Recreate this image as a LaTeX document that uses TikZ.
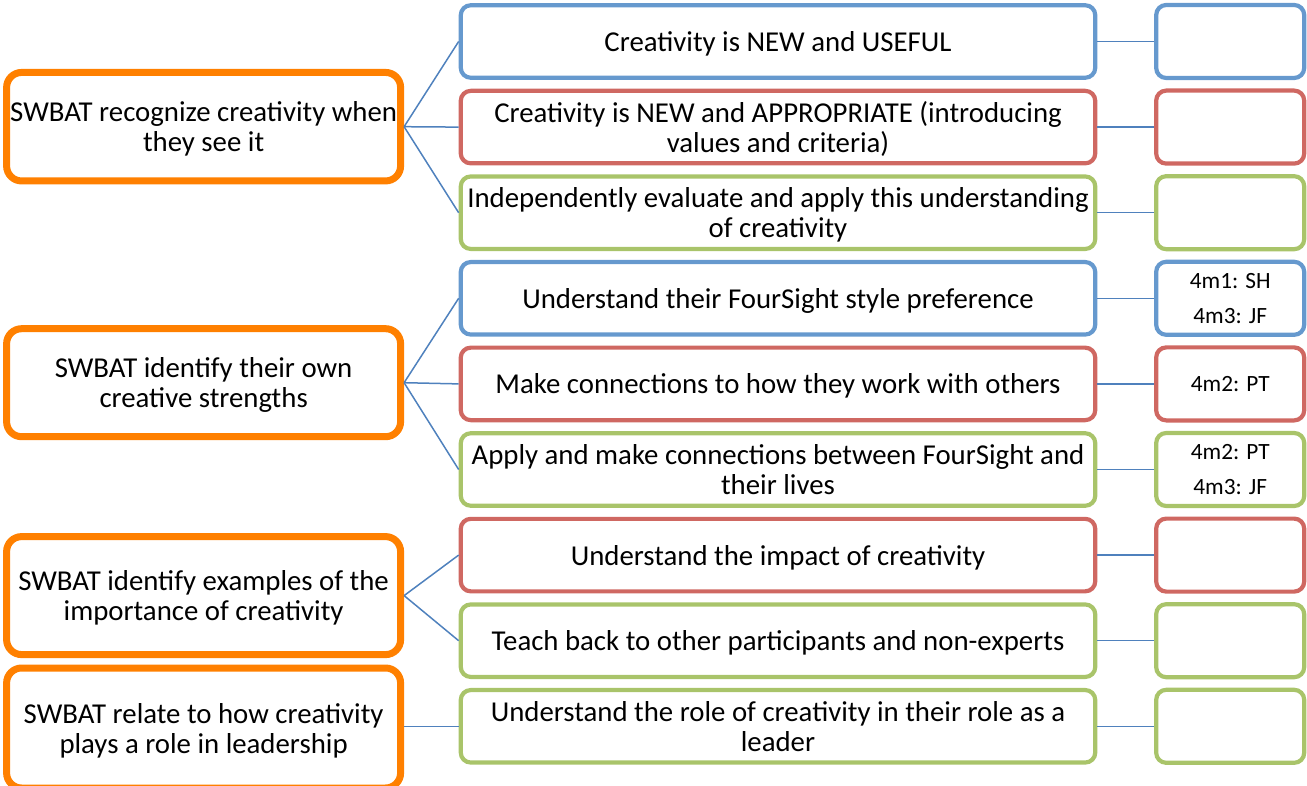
\documentclass[tikz,border=0pt]{standalone}
\usepackage{fontspec}
\setmainfont{Carlito}
\definecolor{orangeb}{RGB}{255,128,0}
\definecolor{blueb}{RGB}{102,153,206}
\definecolor{redb}{RGB}{207,104,98}
\definecolor{greenb}{RGB}{169,196,106}
\definecolor{linkb}{RGB}{79,129,189}
\begin{document}
\begin{tikzpicture}[x=1pt,y=-1pt,
  goal/.style={draw=orangeb, line width=7pt, rounded corners=15pt, minimum width=394pt, align=center, font=\fontsize{28.8}{30}\selectfont, inner sep=0pt, text depth=0pt},
  obj/.style={draw=#1, line width=4.2pt, rounded corners=10pt, minimum width=634.5pt, minimum height=72.5pt, align=center, font=\fontsize{28.8}{30}\selectfont, inner sep=0pt, text depth=0pt},
  tag/.style={draw=#1, line width=4.2pt, rounded corners=10pt, minimum width=148pt, minimum height=73pt, align=center, font=\fontsize{23.3}{35.5}\selectfont, inner sep=0pt},
  link/.style={draw=linkb, line width=1.5pt}]
\useasboundingbox (0,0) rectangle (1307,786);

% connectors' end points are node anchors; nodes first
\node[goal, minimum height=108.5pt] (g1) at (203.6,126.7) {SWBAT recognize creativity when\\they see it};
\node[goal, minimum height=108pt] (g2) at (203.6,382.7) {SWBAT identify their own\\creative strengths};
\node[goal, minimum height=118pt] (g3) at (203.6,595.6) {SWBAT identify examples of the\\importance of creativity};
\node[goal, minimum height=120pt] (g4) at (203.6,728) {SWBAT relate to how creativity\\plays a role in leadership};

\node[obj=blueb]  (o1) at (778,41.5)  {Creativity is NEW and USEFUL};
\node[obj=redb]   (o2) at (778,127.1) {Creativity is NEW and APPROPRIATE (introducing\\values and criteria)};
\node[obj=greenb] (o3) at (778,212.7) {Independently evaluate and apply this understanding\\of creativity};
\node[obj=blueb]  (o4) at (778,298.3) {Understand their FourSight style preference};
\node[obj=redb]   (o5) at (778,383.9) {Make connections to how they work with others};
\node[obj=greenb] (o6) at (778,469.5) {Apply and make connections between FourSight and\\their lives};
\node[obj=redb]   (o7) at (778,555.1) {Understand the impact of creativity};
\node[obj=greenb] (o8) at (778,640.7) {Teach back to other participants and non-experts};
\node[obj=greenb] (o9) at (778,726.3) {Understand the role of creativity in their role as a\\leader};

\node[tag=blueb]  (t1) at (1230.2,41.5)  {};
\node[tag=redb]   (t2) at (1230.2,127.1) {};
\node[tag=greenb] (t3) at (1230.2,212.7) {};
\node[tag=blueb]  (t4) at (1230.2,298.3) {4m1: SH\\4m3: JF};
\node[tag=redb]   (t5) at (1230.2,383.9) {4m2: PT};
\node[tag=greenb] (t6) at (1230.2,469.5) {4m2: PT\\4m3: JF};
\node[tag=redb]   (t7) at (1230.2,555.1) {};
\node[tag=greenb] (t8) at (1230.2,640.7) {};
\node[tag=greenb] (t9) at (1230.2,726.3) {};

\foreach \o in {o1,o2,o3} \draw[link] (g1.east) -- (\o.west);
\foreach \o in {o4,o5,o6} \draw[link] (g2.east) -- (\o.west);
\foreach \o in {o7,o8} \draw[link] (g3.east) -- (\o.west);
\draw[link] (g4.east |- o9.west) -- (o9.west);
\foreach \i in {1,...,9} \draw[link] (o\i.east) -- (t\i.west);
\end{tikzpicture}
\end{document}
